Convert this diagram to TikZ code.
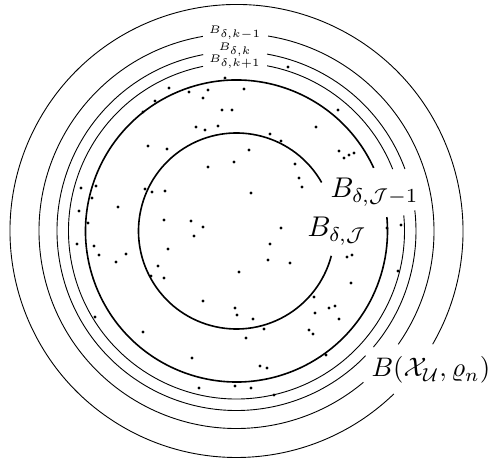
\documentclass[tikz,border=0pt]{standalone}
\begin{document}
\begin{tikzpicture}[x=1pt,y=1pt,
  thinring/.style={line width=0.9pt},
  thickring/.style={line width=1.6pt},
  pt/.style={fill=black,circle,inner sep=0pt,minimum size=3.4pt},
  biglabel/.style={inner sep=0pt,scale=2.85},
  balllabel/.style={inner sep=0pt,scale=2.68},
  smalllabel/.style={inner sep=0pt,scale=2.2,font=\tiny}]
\useasboundingbox (0,0) rectangle (492,462);
\coordinate (C) at (236.5,231);
% outer ball
\draw[thinring] (C) ++(-30:226.5) arc[start angle=-30,end angle=314,radius=226.5];
% B_{delta,k-1}
\draw[thinring] (C) ++(-35:197.5) arc[start angle=-35,end angle=80.8,radius=197.5];
\draw[thinring] (C) ++(99.8:197.5) arc[start angle=99.8,end angle=310,radius=197.5];
% B_{delta,k}
\draw[thinring] (C) ++(20.2:179.5) arc[start angle=20.2,end angle=80.2,radius=179.5];
\draw[thinring] (C) ++(100.7:179.5) arc[start angle=100.7,end angle=316,radius=179.5];
\draw[thinring] (C) ++(-40.3:179.5) arc[start angle=-40.3,end angle=6.6,radius=179.5];
% B_{delta,k+1}
\draw[thinring] (C) ++(21.6:168) arc[start angle=21.6,end angle=79.5,radius=168];
\draw[thinring] (C) ++(101.5:168) arc[start angle=101.5,end angle=365.3,radius=168];
% B_{delta,J-1}
\draw[thickring] (C) ++(24.7:151) arc[start angle=24.7,end angle=365.3,radius=151];
% B_{delta,J}
\draw[thickring] (C) ++(29.7:98) arc[start angle=29.7,end angle=345.3,radius=98];
% labels
\node[smalllabel,anchor=base] (lk1) at (235,428) {$B_{\delta,k-1}$};
\node[smalllabel,anchor=base] (lk) at (235,411) {$B_{\delta,k}$};
\node[smalllabel,anchor=base] (lk2) at (235,399) {$B_{\delta,k+1}$};
\node[biglabel,anchor=base west] (lJ1) at (330,264) {$B_{\delta,\mathcal{J}-1}$};
\node[biglabel,anchor=base west] (lJ) at (307,225) {$B_{\delta,\mathcal{J}}$};
\node[balllabel,anchor=base west] (lB) at (371,85) {$B(\mathcal{X}_{\mathcal{U}},\varrho_n)$};
% points (image coordinates: x, y from top)
\foreach \px/\py in {225/78,169/88,189/92,208/90,244/89,203/98,155/101,143/112,222/110,232/110,
196/127,205/130,218/126,148/146,167/149,208/167,234/162,81/188,96/186,92/198,79/211,118/207,
88/223,145/189,152/192,165/191,164/220,191/221,203/227,
288/67,338/110,316/127,270/134,281/141,249/150,339/151,349/155,354/153,344/158,295/164,
299/178,302/187,251/193,281/228,401/225,387/228,
77/244,94/246,99/255,126/254,116/262,168/249,194/236,158/266,151/276,164/278,239/272,
203/301,235/308,237/315,95/317,143/332,192/358,199/388,235/386,246/338,
270/244,268/260,290/263,347/257,352/255,351/283,398/271,314/297,315/313,329/308,335/306,
339/319,309/330,313/334,253/319,264/329,326/355,260/366,267/368,251/388,274/395}
  \node[pt] at (\px,462-\py) {};
\end{tikzpicture}
\end{document}
